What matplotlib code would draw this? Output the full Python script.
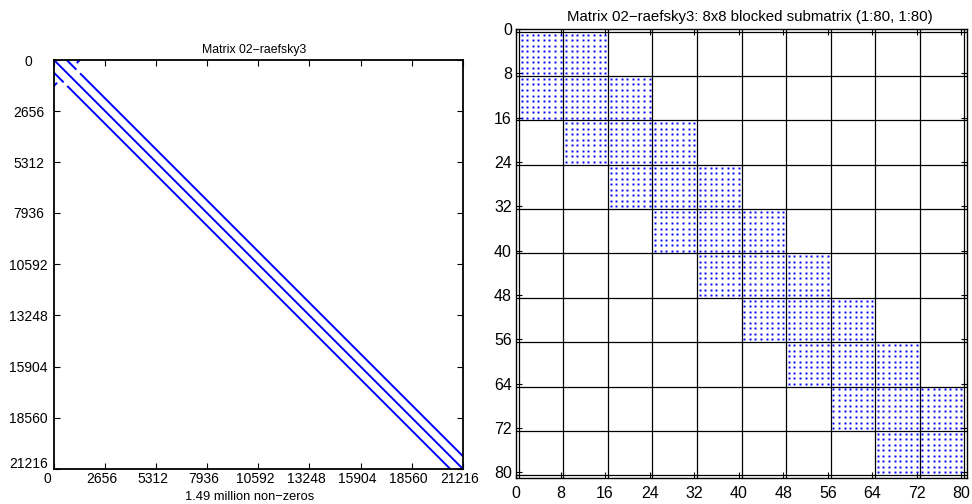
import numpy as np
import matplotlib
matplotlib.use("Agg")
import matplotlib.pyplot as plt
from matplotlib.transforms import ScaledTranslation

plt.rcParams['font.family'] = ['Liberation Sans', 'DejaVu Sans']

# ---------------- data ----------------
N = 21216
left_ticks = [0, 2656, 5312, 7936, 10592, 13248, 15904, 18560, 21216]
left_title = "Matrix 02\u2212raefsky3"
left_xlabel = "1.49 million non\u2212zeros"

# diagonal band segments: column = row + offset, for rows in [start, end]
band_offsets = [0, 660, 660, -660, -660]
band_row_start = [0, 0, 690, 660, 1350]
band_row_end = [21216, 500, 20556, 1160, 21216]

# short anti-diagonal pieces near the top-left corner: (row0, row1), (col0, col1)
anti_rows = [(0, 160), (1340, 1180)]
anti_cols = [(1340, 1180), (0, 160)]

right_title = "Matrix 02\u2212raefsky3: 8x8 blocked submatrix (1:80, 1:80)"
sub_n = 80
block_size = 8
block_offsets = [-1, 0, 1]          # non-zero block diagonals
right_ticks = [0, 8, 16, 24, 32, 40, 48, 56, 64, 72, 80]

blue = '#0000ff'

fig = plt.figure(figsize=(9.72, 5.04), dpi=100)
px = lambda dx, dy=0: ScaledTranslation(dx / 100, dy / 100, fig.dpi_scale_trans)

# ---------------- left: spy plot ----------------
axl = fig.add_axes([54/972, 1 - 469/504, 409/972, 409/504])
for off, r0, r1 in zip(band_offsets, band_row_start, band_row_end):
    axl.plot([r0 + off, r1 + off], [r0, r1], color=blue, lw=1.4,
             solid_capstyle='butt')
for (r0, r1), (c0, c1) in zip(anti_rows, anti_cols):
    axl.plot([c0, c1], [r0, r1], color=blue, lw=1.4, solid_capstyle='butt')
axl.set_xlim(0, N)
axl.set_ylim(N, 0)
axl.set_xticks(left_ticks)
axl.set_yticks(left_ticks)
axl.tick_params(direction='in', length=4, width=0.8, top=True, right=True,
                labelsize=10, colors='black')
axl.tick_params(axis='y', pad=9)
axl.tick_params(axis='x', pad=2)
for s in axl.spines.values():
    s.set_linewidth(1.3)
ylabs = axl.get_yticklabels()
for i, lab in enumerate(ylabs):
    lab.set_horizontalalignment('center')
    lab.set_transform(lab.get_transform() + px(-13, 6 if i == len(ylabs) - 1 else 0))
for i, lab in enumerate(axl.get_xticklabels()):
    lab.set_transform(lab.get_transform() + px(-7 if i == 0 else -3))
axl.set_title(left_title, fontsize=8.8, pad=5, x=0.489)
axl.set_xlabel(left_xlabel, fontsize=9.3, labelpad=-1)
axl.xaxis.set_label_coords(0.479, -0.055)

# ---------------- right: blocked submatrix ----------------
axr = fig.add_axes([516/972, 1 - 478/504, 451/972, 449/504])
nb = sub_n // block_size
rows, cols = [], []
for bi in range(nb):
    for d in block_offsets:
        bj = bi + d
        if 0 <= bj < nb:
            r = np.arange(bi * block_size + 1, (bi + 1) * block_size + 1)
            c = np.arange(bj * block_size + 1, (bj + 1) * block_size + 1)
            R, C = np.meshgrid(r, c)
            rows.append(R.ravel())
            cols.append(C.ravel())
rows = np.concatenate(rows)
cols = np.concatenate(cols)
axr.plot(cols, rows, linestyle='none', marker='s', markersize=1.4,
         markeredgewidth=0, color=blue)
for k in range(nb + 1):
    g = k * block_size + 0.5
    axr.axvline(g, color='black', lw=0.9)
    axr.axhline(g, color='black', lw=0.9)
axr.set_xlim(0, sub_n + 1)
axr.set_ylim(sub_n + 1, 0)
axr.set_xticks(right_ticks)
axr.set_yticks(right_ticks)
axr.tick_params(direction='in', length=4, width=0.8, top=True, right=True,
                labelsize=11.5, colors='black')
axr.tick_params(axis='y', pad=3)
axr.tick_params(axis='x', pad=6)
for s in axr.spines.values():
    s.set_linewidth(1.0)
axr.set_title(right_title, fontsize=10.8, pad=6, x=0.519)

fig.savefig('out.png', dpi=100)
